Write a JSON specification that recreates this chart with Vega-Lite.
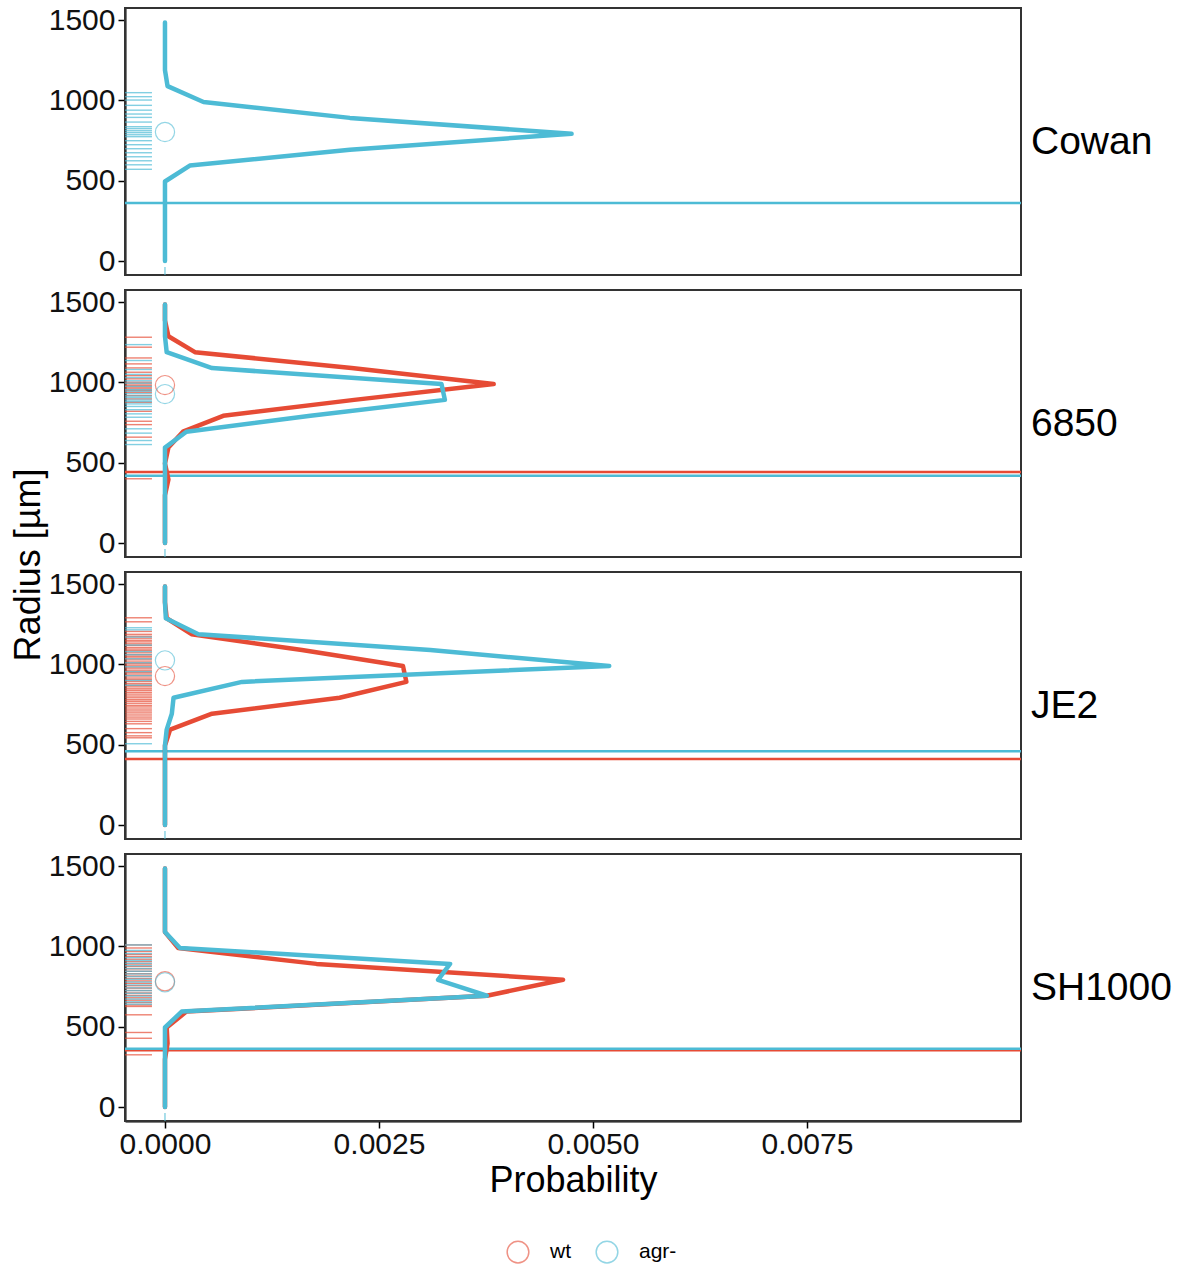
{
 "$schema": "https://vega.github.io/schema/vega-lite/v6.json",
 "padding": {"left": 10, "top": 5, "right": 5, "bottom": 5},
 "bounds": "flush",
 "background": "white",
 "data": {"values": [
  {"panel":"Cowan","group":"agr-","kind":"dens","r":0,"p":0},
  {"panel":"Cowan","group":"agr-","kind":"dens","r":99,"p":0},
  {"panel":"Cowan","group":"agr-","kind":"dens","r":198,"p":0},
  {"panel":"Cowan","group":"agr-","kind":"dens","r":297,"p":0},
  {"panel":"Cowan","group":"agr-","kind":"dens","r":396,"p":0},
  {"panel":"Cowan","group":"agr-","kind":"dens","r":495,"p":0},
  {"panel":"Cowan","group":"agr-","kind":"dens","r":594,"p":0.00029},
  {"panel":"Cowan","group":"agr-","kind":"dens","r":693,"p":0.00216},
  {"panel":"Cowan","group":"agr-","kind":"dens","r":792,"p":0.00475},
  {"panel":"Cowan","group":"agr-","kind":"dens","r":891,"p":0.00216},
  {"panel":"Cowan","group":"agr-","kind":"dens","r":990,"p":0.00045},
  {"panel":"Cowan","group":"agr-","kind":"dens","r":1089,"p":0.00003},
  {"panel":"Cowan","group":"agr-","kind":"dens","r":1188,"p":0},
  {"panel":"Cowan","group":"agr-","kind":"dens","r":1287,"p":0},
  {"panel":"Cowan","group":"agr-","kind":"dens","r":1386,"p":0},
  {"panel":"Cowan","group":"agr-","kind":"dens","r":1485,"p":0},

  {"panel":"6850","group":"wt","kind":"dens","r":0,"p":0},
  {"panel":"6850","group":"wt","kind":"dens","r":99,"p":0},
  {"panel":"6850","group":"wt","kind":"dens","r":198,"p":0},
  {"panel":"6850","group":"wt","kind":"dens","r":297,"p":0},
  {"panel":"6850","group":"wt","kind":"dens","r":396,"p":0.00004},
  {"panel":"6850","group":"wt","kind":"dens","r":495,"p":0},
  {"panel":"6850","group":"wt","kind":"dens","r":594,"p":0.00004},
  {"panel":"6850","group":"wt","kind":"dens","r":693,"p":0.00021},
  {"panel":"6850","group":"wt","kind":"dens","r":792,"p":0.00068},
  {"panel":"6850","group":"wt","kind":"dens","r":891,"p":0.00221},
  {"panel":"6850","group":"wt","kind":"dens","r":990,"p":0.00384},
  {"panel":"6850","group":"wt","kind":"dens","r":1089,"p":0.00218},
  {"panel":"6850","group":"wt","kind":"dens","r":1188,"p":0.00035},
  {"panel":"6850","group":"wt","kind":"dens","r":1287,"p":0.00004},
  {"panel":"6850","group":"wt","kind":"dens","r":1386,"p":0},
  {"panel":"6850","group":"wt","kind":"dens","r":1485,"p":0},

  {"panel":"6850","group":"agr-","kind":"dens","r":0,"p":0},
  {"panel":"6850","group":"agr-","kind":"dens","r":99,"p":0},
  {"panel":"6850","group":"agr-","kind":"dens","r":198,"p":0},
  {"panel":"6850","group":"agr-","kind":"dens","r":297,"p":0},
  {"panel":"6850","group":"agr-","kind":"dens","r":396,"p":0},
  {"panel":"6850","group":"agr-","kind":"dens","r":495,"p":0},
  {"panel":"6850","group":"agr-","kind":"dens","r":594,"p":0},
  {"panel":"6850","group":"agr-","kind":"dens","r":693,"p":0.00025},
  {"panel":"6850","group":"agr-","kind":"dens","r":792,"p":0.0017},
  {"panel":"6850","group":"agr-","kind":"dens","r":891,"p":0.00327},
  {"panel":"6850","group":"agr-","kind":"dens","r":990,"p":0.00323},
  {"panel":"6850","group":"agr-","kind":"dens","r":1089,"p":0.00055},
  {"panel":"6850","group":"agr-","kind":"dens","r":1188,"p":0.00002},
  {"panel":"6850","group":"agr-","kind":"dens","r":1287,"p":0},
  {"panel":"6850","group":"agr-","kind":"dens","r":1386,"p":0},
  {"panel":"6850","group":"agr-","kind":"dens","r":1485,"p":0},

  {"panel":"JE2","group":"wt","kind":"dens","r":0,"p":0},
  {"panel":"JE2","group":"wt","kind":"dens","r":99,"p":0},
  {"panel":"JE2","group":"wt","kind":"dens","r":198,"p":0},
  {"panel":"JE2","group":"wt","kind":"dens","r":297,"p":0},
  {"panel":"JE2","group":"wt","kind":"dens","r":396,"p":0},
  {"panel":"JE2","group":"wt","kind":"dens","r":495,"p":0},
  {"panel":"JE2","group":"wt","kind":"dens","r":594,"p":0.00006},
  {"panel":"JE2","group":"wt","kind":"dens","r":693,"p":0.00055},
  {"panel":"JE2","group":"wt","kind":"dens","r":792,"p":0.00204},
  {"panel":"JE2","group":"wt","kind":"dens","r":891,"p":0.00282},
  {"panel":"JE2","group":"wt","kind":"dens","r":990,"p":0.00278},
  {"panel":"JE2","group":"wt","kind":"dens","r":1089,"p":0.0016},
  {"panel":"JE2","group":"wt","kind":"dens","r":1188,"p":0.00031},
  {"panel":"JE2","group":"wt","kind":"dens","r":1287,"p":0.00002},
  {"panel":"JE2","group":"wt","kind":"dens","r":1386,"p":0},
  {"panel":"JE2","group":"wt","kind":"dens","r":1485,"p":0},

  {"panel":"JE2","group":"agr-","kind":"dens","r":0,"p":0},
  {"panel":"JE2","group":"agr-","kind":"dens","r":99,"p":0},
  {"panel":"JE2","group":"agr-","kind":"dens","r":198,"p":0},
  {"panel":"JE2","group":"agr-","kind":"dens","r":297,"p":0},
  {"panel":"JE2","group":"agr-","kind":"dens","r":396,"p":0},
  {"panel":"JE2","group":"agr-","kind":"dens","r":495,"p":0},
  {"panel":"JE2","group":"agr-","kind":"dens","r":594,"p":0.00002},
  {"panel":"JE2","group":"agr-","kind":"dens","r":693,"p":0.00008},
  {"panel":"JE2","group":"agr-","kind":"dens","r":792,"p":0.0001},
  {"panel":"JE2","group":"agr-","kind":"dens","r":891,"p":0.0009},
  {"panel":"JE2","group":"agr-","kind":"dens","r":990,"p":0.00519},
  {"panel":"JE2","group":"agr-","kind":"dens","r":1089,"p":0.0031},
  {"panel":"JE2","group":"agr-","kind":"dens","r":1188,"p":0.00039},
  {"panel":"JE2","group":"agr-","kind":"dens","r":1287,"p":0.00001},
  {"panel":"JE2","group":"agr-","kind":"dens","r":1386,"p":0},
  {"panel":"JE2","group":"agr-","kind":"dens","r":1485,"p":0},

  {"panel":"SH1000","group":"wt","kind":"dens","r":0,"p":0},
  {"panel":"SH1000","group":"wt","kind":"dens","r":99,"p":0},
  {"panel":"SH1000","group":"wt","kind":"dens","r":198,"p":0},
  {"panel":"SH1000","group":"wt","kind":"dens","r":297,"p":0},
  {"panel":"SH1000","group":"wt","kind":"dens","r":396,"p":0.00003},
  {"panel":"SH1000","group":"wt","kind":"dens","r":495,"p":0.00002},
  {"panel":"SH1000","group":"wt","kind":"dens","r":594,"p":0.00025},
  {"panel":"SH1000","group":"wt","kind":"dens","r":693,"p":0.00376},
  {"panel":"SH1000","group":"wt","kind":"dens","r":792,"p":0.00465},
  {"panel":"SH1000","group":"wt","kind":"dens","r":891,"p":0.00177},
  {"panel":"SH1000","group":"wt","kind":"dens","r":990,"p":0.000155},
  {"panel":"SH1000","group":"wt","kind":"dens","r":1089,"p":0},
  {"panel":"SH1000","group":"wt","kind":"dens","r":1188,"p":0},
  {"panel":"SH1000","group":"wt","kind":"dens","r":1287,"p":0},
  {"panel":"SH1000","group":"wt","kind":"dens","r":1386,"p":0},
  {"panel":"SH1000","group":"wt","kind":"dens","r":1485,"p":0},

  {"panel":"SH1000","group":"agr-","kind":"dens","r":0,"p":0},
  {"panel":"SH1000","group":"agr-","kind":"dens","r":99,"p":0},
  {"panel":"SH1000","group":"agr-","kind":"dens","r":198,"p":0},
  {"panel":"SH1000","group":"agr-","kind":"dens","r":297,"p":0},
  {"panel":"SH1000","group":"agr-","kind":"dens","r":396,"p":0},
  {"panel":"SH1000","group":"agr-","kind":"dens","r":495,"p":0},
  {"panel":"SH1000","group":"agr-","kind":"dens","r":594,"p":0.000195},
  {"panel":"SH1000","group":"agr-","kind":"dens","r":693,"p":0.00376},
  {"panel":"SH1000","group":"agr-","kind":"dens","r":792,"p":0.00319},
  {"panel":"SH1000","group":"agr-","kind":"dens","r":891,"p":0.00333},
  {"panel":"SH1000","group":"agr-","kind":"dens","r":990,"p":0.000175},
  {"panel":"SH1000","group":"agr-","kind":"dens","r":1089,"p":0},
  {"panel":"SH1000","group":"agr-","kind":"dens","r":1188,"p":0},
  {"panel":"SH1000","group":"agr-","kind":"dens","r":1287,"p":0},
  {"panel":"SH1000","group":"agr-","kind":"dens","r":1386,"p":0},
  {"panel":"SH1000","group":"agr-","kind":"dens","r":1485,"p":0},

  {"panel":"Cowan","group":"agr-","kind":"mean","r":803},
  {"panel":"6850","group":"wt","kind":"mean","r":983},
  {"panel":"6850","group":"agr-","kind":"mean","r":927},
  {"panel":"JE2","group":"wt","kind":"mean","r":927},
  {"panel":"JE2","group":"agr-","kind":"mean","r":1025},
  {"panel":"SH1000","group":"wt","kind":"mean","r":783},
  {"panel":"SH1000","group":"agr-","kind":"mean","r":776},

  {"panel":"Cowan","group":"agr-","kind":"thr","r":361},
  {"panel":"6850","group":"wt","kind":"thr","r":442},
  {"panel":"6850","group":"agr-","kind":"thr","r":418},
  {"panel":"JE2","group":"wt","kind":"thr","r":411},
  {"panel":"JE2","group":"agr-","kind":"thr","r":459},
  {"panel":"SH1000","group":"wt","kind":"thr","r":354},
  {"panel":"SH1000","group":"agr-","kind":"thr","r":362},

  {"panel":"Cowan","group":"agr-","kind":"rug","r":1048},
  {"panel":"Cowan","group":"agr-","kind":"rug","r":1023},
  {"panel":"Cowan","group":"agr-","kind":"rug","r":1002},
  {"panel":"Cowan","group":"agr-","kind":"rug","r":969},
  {"panel":"Cowan","group":"agr-","kind":"rug","r":939},
  {"panel":"Cowan","group":"agr-","kind":"rug","r":915},
  {"panel":"Cowan","group":"agr-","kind":"rug","r":894},
  {"panel":"Cowan","group":"agr-","kind":"rug","r":865},
  {"panel":"Cowan","group":"agr-","kind":"rug","r":836},
  {"panel":"Cowan","group":"agr-","kind":"rug","r":824},
  {"panel":"Cowan","group":"agr-","kind":"rug","r":811},
  {"panel":"Cowan","group":"agr-","kind":"rug","r":799},
  {"panel":"Cowan","group":"agr-","kind":"rug","r":786},
  {"panel":"Cowan","group":"agr-","kind":"rug","r":774},
  {"panel":"Cowan","group":"agr-","kind":"rug","r":749},
  {"panel":"Cowan","group":"agr-","kind":"rug","r":724},
  {"panel":"Cowan","group":"agr-","kind":"rug","r":699},
  {"panel":"Cowan","group":"agr-","kind":"rug","r":674},
  {"panel":"Cowan","group":"agr-","kind":"rug","r":649},
  {"panel":"Cowan","group":"agr-","kind":"rug","r":624},
  {"panel":"Cowan","group":"agr-","kind":"rug","r":599},
  {"panel":"Cowan","group":"agr-","kind":"rug","r":571},

  {"panel":"6850","group":"wt","kind":"rug","r":1281},
  {"panel":"6850","group":"wt","kind":"rug","r":1219},
  {"panel":"6850","group":"wt","kind":"rug","r":1152},
  {"panel":"6850","group":"wt","kind":"rug","r":1115},
  {"panel":"6850","group":"wt","kind":"rug","r":1090},
  {"panel":"6850","group":"wt","kind":"rug","r":1063},
  {"panel":"6850","group":"wt","kind":"rug","r":1042},
  {"panel":"6850","group":"wt","kind":"rug","r":1022},
  {"panel":"6850","group":"wt","kind":"rug","r":1001},
  {"panel":"6850","group":"wt","kind":"rug","r":990},
  {"panel":"6850","group":"wt","kind":"rug","r":980},
  {"panel":"6850","group":"wt","kind":"rug","r":970},
  {"panel":"6850","group":"wt","kind":"rug","r":960},
  {"panel":"6850","group":"wt","kind":"rug","r":950},
  {"panel":"6850","group":"wt","kind":"rug","r":938},
  {"panel":"6850","group":"wt","kind":"rug","r":918},
  {"panel":"6850","group":"wt","kind":"rug","r":897},
  {"panel":"6850","group":"wt","kind":"rug","r":876},
  {"panel":"6850","group":"wt","kind":"rug","r":820},
  {"panel":"6850","group":"wt","kind":"rug","r":758},
  {"panel":"6850","group":"wt","kind":"rug","r":737},
  {"panel":"6850","group":"wt","kind":"rug","r":659},
  {"panel":"6850","group":"wt","kind":"rug","r":400},
  {"panel":"6850","group":"agr-","kind":"rug","r":1235},
  {"panel":"6850","group":"agr-","kind":"rug","r":1136},
  {"panel":"6850","group":"agr-","kind":"rug","r":1080},
  {"panel":"6850","group":"agr-","kind":"rug","r":1050},
  {"panel":"6850","group":"agr-","kind":"rug","r":1030},
  {"panel":"6850","group":"agr-","kind":"rug","r":1010},
  {"panel":"6850","group":"agr-","kind":"rug","r":995},
  {"panel":"6850","group":"agr-","kind":"rug","r":975},
  {"panel":"6850","group":"agr-","kind":"rug","r":955},
  {"panel":"6850","group":"agr-","kind":"rug","r":945},
  {"panel":"6850","group":"agr-","kind":"rug","r":930},
  {"panel":"6850","group":"agr-","kind":"rug","r":915},
  {"panel":"6850","group":"agr-","kind":"rug","r":905},
  {"panel":"6850","group":"agr-","kind":"rug","r":890},
  {"panel":"6850","group":"agr-","kind":"rug","r":880},
  {"panel":"6850","group":"agr-","kind":"rug","r":866},
  {"panel":"6850","group":"agr-","kind":"rug","r":850},
  {"panel":"6850","group":"agr-","kind":"rug","r":830},
  {"panel":"6850","group":"agr-","kind":"rug","r":804},
  {"panel":"6850","group":"agr-","kind":"rug","r":783},
  {"panel":"6850","group":"agr-","kind":"rug","r":711},
  {"panel":"6850","group":"agr-","kind":"rug","r":684},
  {"panel":"6850","group":"agr-","kind":"rug","r":638},
  {"panel":"6850","group":"agr-","kind":"rug","r":613},

  {"panel":"JE2","group":"wt","kind":"rug","r":1290},
  {"panel":"JE2","group":"wt","kind":"rug","r":1265},
  {"panel":"JE2","group":"wt","kind":"rug","r":1205},
  {"panel":"JE2","group":"wt","kind":"rug","r":1187},
  {"panel":"JE2","group":"wt","kind":"rug","r":1175},
  {"panel":"JE2","group":"wt","kind":"rug","r":1163},
  {"panel":"JE2","group":"wt","kind":"rug","r":1150},
  {"panel":"JE2","group":"wt","kind":"rug","r":1140},
  {"panel":"JE2","group":"wt","kind":"rug","r":1128},
  {"panel":"JE2","group":"wt","kind":"rug","r":1118},
  {"panel":"JE2","group":"wt","kind":"rug","r":1105},
  {"panel":"JE2","group":"wt","kind":"rug","r":1095},
  {"panel":"JE2","group":"wt","kind":"rug","r":1085},
  {"panel":"JE2","group":"wt","kind":"rug","r":1072},
  {"panel":"JE2","group":"wt","kind":"rug","r":1060},
  {"panel":"JE2","group":"wt","kind":"rug","r":1050},
  {"panel":"JE2","group":"wt","kind":"rug","r":1040},
  {"panel":"JE2","group":"wt","kind":"rug","r":1028},
  {"panel":"JE2","group":"wt","kind":"rug","r":1015},
  {"panel":"JE2","group":"wt","kind":"rug","r":1005},
  {"panel":"JE2","group":"wt","kind":"rug","r":995},
  {"panel":"JE2","group":"wt","kind":"rug","r":983},
  {"panel":"JE2","group":"wt","kind":"rug","r":972},
  {"panel":"JE2","group":"wt","kind":"rug","r":960},
  {"panel":"JE2","group":"wt","kind":"rug","r":950},
  {"panel":"JE2","group":"wt","kind":"rug","r":940},
  {"panel":"JE2","group":"wt","kind":"rug","r":928},
  {"panel":"JE2","group":"wt","kind":"rug","r":915},
  {"panel":"JE2","group":"wt","kind":"rug","r":905},
  {"panel":"JE2","group":"wt","kind":"rug","r":893},
  {"panel":"JE2","group":"wt","kind":"rug","r":880},
  {"panel":"JE2","group":"wt","kind":"rug","r":870},
  {"panel":"JE2","group":"wt","kind":"rug","r":860},
  {"panel":"JE2","group":"wt","kind":"rug","r":848},
  {"panel":"JE2","group":"wt","kind":"rug","r":838},
  {"panel":"JE2","group":"wt","kind":"rug","r":826},
  {"panel":"JE2","group":"wt","kind":"rug","r":815},
  {"panel":"JE2","group":"wt","kind":"rug","r":803},
  {"panel":"JE2","group":"wt","kind":"rug","r":792},
  {"panel":"JE2","group":"wt","kind":"rug","r":780},
  {"panel":"JE2","group":"wt","kind":"rug","r":770},
  {"panel":"JE2","group":"wt","kind":"rug","r":758},
  {"panel":"JE2","group":"wt","kind":"rug","r":745},
  {"panel":"JE2","group":"wt","kind":"rug","r":735},
  {"panel":"JE2","group":"wt","kind":"rug","r":722},
  {"panel":"JE2","group":"wt","kind":"rug","r":710},
  {"panel":"JE2","group":"wt","kind":"rug","r":698},
  {"panel":"JE2","group":"wt","kind":"rug","r":685},
  {"panel":"JE2","group":"wt","kind":"rug","r":672},
  {"panel":"JE2","group":"wt","kind":"rug","r":660},
  {"panel":"JE2","group":"wt","kind":"rug","r":645},
  {"panel":"JE2","group":"wt","kind":"rug","r":630},
  {"panel":"JE2","group":"wt","kind":"rug","r":600},
  {"panel":"JE2","group":"wt","kind":"rug","r":575},
  {"panel":"JE2","group":"wt","kind":"rug","r":555},
  {"panel":"JE2","group":"wt","kind":"rug","r":543},
  {"panel":"JE2","group":"agr-","kind":"rug","r":1228},
  {"panel":"JE2","group":"agr-","kind":"rug","r":1215},
  {"panel":"JE2","group":"agr-","kind":"rug","r":1170},
  {"panel":"JE2","group":"agr-","kind":"rug","r":1120},
  {"panel":"JE2","group":"agr-","kind":"rug","r":1080},
  {"panel":"JE2","group":"agr-","kind":"rug","r":1060},
  {"panel":"JE2","group":"agr-","kind":"rug","r":1035},
  {"panel":"JE2","group":"agr-","kind":"rug","r":1010},
  {"panel":"JE2","group":"agr-","kind":"rug","r":985},
  {"panel":"JE2","group":"agr-","kind":"rug","r":955},
  {"panel":"JE2","group":"agr-","kind":"rug","r":930},
  {"panel":"JE2","group":"agr-","kind":"rug","r":900},
  {"panel":"JE2","group":"agr-","kind":"rug","r":870},
  {"panel":"JE2","group":"agr-","kind":"rug","r":506},

  {"panel":"SH1000","group":"wt","kind":"rug","r":1009},
  {"panel":"SH1000","group":"wt","kind":"rug","r":990},
  {"panel":"SH1000","group":"wt","kind":"rug","r":968},
  {"panel":"SH1000","group":"wt","kind":"rug","r":950},
  {"panel":"SH1000","group":"wt","kind":"rug","r":937},
  {"panel":"SH1000","group":"wt","kind":"rug","r":920},
  {"panel":"SH1000","group":"wt","kind":"rug","r":905},
  {"panel":"SH1000","group":"wt","kind":"rug","r":890},
  {"panel":"SH1000","group":"wt","kind":"rug","r":875},
  {"panel":"SH1000","group":"wt","kind":"rug","r":860},
  {"panel":"SH1000","group":"wt","kind":"rug","r":845},
  {"panel":"SH1000","group":"wt","kind":"rug","r":830},
  {"panel":"SH1000","group":"wt","kind":"rug","r":815},
  {"panel":"SH1000","group":"wt","kind":"rug","r":800},
  {"panel":"SH1000","group":"wt","kind":"rug","r":785},
  {"panel":"SH1000","group":"wt","kind":"rug","r":770},
  {"panel":"SH1000","group":"wt","kind":"rug","r":755},
  {"panel":"SH1000","group":"wt","kind":"rug","r":740},
  {"panel":"SH1000","group":"wt","kind":"rug","r":725},
  {"panel":"SH1000","group":"wt","kind":"rug","r":710},
  {"panel":"SH1000","group":"wt","kind":"rug","r":695},
  {"panel":"SH1000","group":"wt","kind":"rug","r":680},
  {"panel":"SH1000","group":"wt","kind":"rug","r":665},
  {"panel":"SH1000","group":"wt","kind":"rug","r":650},
  {"panel":"SH1000","group":"wt","kind":"rug","r":635},
  {"panel":"SH1000","group":"wt","kind":"rug","r":626},
  {"panel":"SH1000","group":"wt","kind":"rug","r":574},
  {"panel":"SH1000","group":"wt","kind":"rug","r":464},
  {"panel":"SH1000","group":"wt","kind":"rug","r":428},
  {"panel":"SH1000","group":"wt","kind":"rug","r":325},
  {"panel":"SH1000","group":"agr-","kind":"rug","r":1009},
  {"panel":"SH1000","group":"agr-","kind":"rug","r":975},
  {"panel":"SH1000","group":"agr-","kind":"rug","r":955},
  {"panel":"SH1000","group":"agr-","kind":"rug","r":930},
  {"panel":"SH1000","group":"agr-","kind":"rug","r":912},
  {"panel":"SH1000","group":"agr-","kind":"rug","r":895},
  {"panel":"SH1000","group":"agr-","kind":"rug","r":880},
  {"panel":"SH1000","group":"agr-","kind":"rug","r":862},
  {"panel":"SH1000","group":"agr-","kind":"rug","r":845},
  {"panel":"SH1000","group":"agr-","kind":"rug","r":828},
  {"panel":"SH1000","group":"agr-","kind":"rug","r":812},
  {"panel":"SH1000","group":"agr-","kind":"rug","r":795},
  {"panel":"SH1000","group":"agr-","kind":"rug","r":778},
  {"panel":"SH1000","group":"agr-","kind":"rug","r":760},
  {"panel":"SH1000","group":"agr-","kind":"rug","r":742},
  {"panel":"SH1000","group":"agr-","kind":"rug","r":725},
  {"panel":"SH1000","group":"agr-","kind":"rug","r":708},
  {"panel":"SH1000","group":"agr-","kind":"rug","r":690},
  {"panel":"SH1000","group":"agr-","kind":"rug","r":672},
  {"panel":"SH1000","group":"agr-","kind":"rug","r":655},
  {"panel":"SH1000","group":"agr-","kind":"rug","r":640}
 ]},
 "spacing": {"row": 15},
 "facet": {
  "row": {
   "field": "panel", "type": "nominal",
   "sort": ["Cowan", "6850", "JE2", "SH1000"],
   "header": {
    "title": "Radius [µm]", "titleOrient": "left", "titleFontSize": 36, "titleFontWeight": "normal",
    "titleColor": "#000000", "titleFont": "Liberation Sans", "titlePadding": -10,
    "labelOrient": "right", "labelAngle": 0, "labelAlign": "right", "labelBaseline": "middle",
    "labelFontSize": 39, "labelFont": "Liberation Sans", "labelColor": "#000000", "labelPadding": 10
   }
  }
 },
 "spec": {
  "width": 896,
  "height": 267,
  "layer": [
   {
    "transform": [{"filter": "datum.kind === 'mean'"}],
    "mark": {"type": "point", "filled": false, "size": 370, "strokeWidth": 1.2, "opacity": 0.6},
    "encoding": {
     "x": {"datum": 0, "type": "quantitative", "title": "Probability",
       "scale": {"domain": [-0.000467, 0.0100], "nice": false, "zero": false},
       "axis": {"values": [0, 0.0025, 0.005, 0.0075], "format": ".4f", "labelPadding": 1, "titlePadding": 4}},
     "y": {"field": "r", "type": "quantitative", "title": null,
       "scale": {"domain": [-87, 1575], "nice": false, "zero": false},
       "axis": {"values": [0, 500, 1000, 1500], "format": "d"}},
     "color": {"field": "group", "type": "nominal", "title": null,
       "scale": {"domain": ["wt", "agr-"], "range": ["#E64B35", "#4DBBD5"]},
       "legend": {"orient": "bottom", "direction": "horizontal", "symbolType": "circle", "symbolSize": 470,
         "symbolStrokeWidth": 1.5, "labelFontSize": 21, "labelOffset": 20, "columnPadding": 22, "offset": 42}}
    }
   },
   {
    "transform": [{"filter": "datum.kind === 'rug'"}],
    "mark": {"type": "rule", "strokeWidth": 1.4, "opacity": 0.7},
    "encoding": {
     "x": {"datum": -0.000467, "type": "quantitative", "title": "Probability"},
     "x2": {"datum": -0.000152},
     "y": {"field": "r", "type": "quantitative", "title": null},
     "color": {"field": "group", "type": "nominal", "title": null}
    }
   },
   {
    "transform": [{"filter": "datum.kind === 'thr'"}],
    "mark": {"type": "rule", "strokeWidth": 2.5},
    "encoding": {
     "y": {"field": "r", "type": "quantitative", "title": null},
     "color": {"field": "group", "type": "nominal", "title": null}
    }
   },
   {
    "transform": [{"filter": "datum.kind === 'mean' && datum.group === 'agr-'"}],
    "mark": {"type": "rule", "strokeWidth": 1.2, "color": "#4DBBD5", "opacity": 0.8},
    "encoding": {
     "x": {"datum": 0, "type": "quantitative", "title": "Probability"},
     "y": {"datum": -87, "type": "quantitative", "title": null},
     "y2": {"datum": -37}
    }
   },
   {
    "transform": [{"filter": "datum.kind === 'dens' && datum.group === 'wt'"}],
    "mark": {"type": "line", "strokeWidth": 4.5, "strokeCap": "round", "strokeJoin": "round"},
    "encoding": {
     "x": {"field": "p", "type": "quantitative", "title": "Probability"},
     "y": {"field": "r", "type": "quantitative", "title": null},
     "order": {"field": "r", "type": "quantitative"},
     "color": {"field": "group", "type": "nominal", "title": null}
    }
   },
   {
    "transform": [{"filter": "datum.kind === 'dens' && datum.group === 'agr-'"}],
    "mark": {"type": "line", "strokeWidth": 4.5, "strokeCap": "round", "strokeJoin": "round"},
    "encoding": {
     "x": {"field": "p", "type": "quantitative", "title": "Probability"},
     "y": {"field": "r", "type": "quantitative", "title": null},
     "order": {"field": "r", "type": "quantitative"},
     "color": {"field": "group", "type": "nominal", "title": null}
    }
   }
  ]
 },
 "config": {
  "font": "Liberation Sans",
  "view": {"stroke": "#333333", "strokeWidth": 2},
  "axis": {
   "grid": false, "domainColor": "#000000", "domainWidth": 2, "tickColor": "#000000", "tickWidth": 1.5,
   "tickSize": 7, "labelFontSize": 30, "labelColor": "#111111", "labelPadding": 3,
   "titleFontSize": 36, "titleFontWeight": "normal", "titleColor": "#000000", "titlePadding": 2,
   "labelFont": "Liberation Sans", "titleFont": "Liberation Sans"
  },
  "legend": {"labelFont": "Liberation Sans", "labelColor": "#000000", "layout": {"bottom": {"anchor": "middle"}}}
 }
}
